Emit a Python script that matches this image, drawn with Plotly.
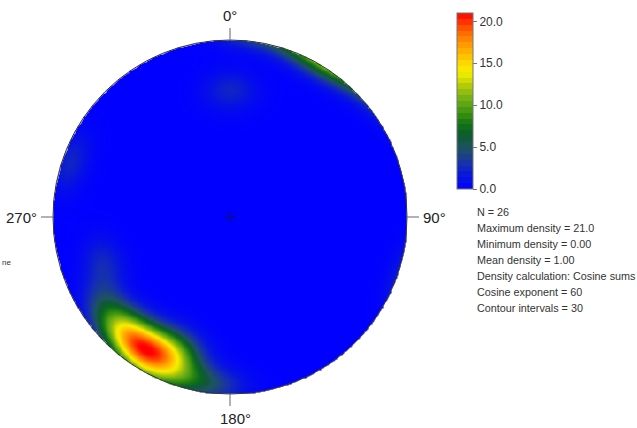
import numpy as np
import plotly.graph_objects as go

# ---- data: poles (trend, plunge in degrees) ----
pole_trend = [224, 208, 214, 206, 217, 210, 212, 204, 218,
              222, 200, 219, 198, 226, 205,
              207, 211, 200,
              192, 184,
              250, 237,
              230, 215,
              0, 289]
pole_plunge = [16, 16, 12, 13, 16, 11, 18, 17, 11,
               20, 21, 6, 10, 12, 24,
               2, 1, 4,
               7, 5,
               25, 17,
               8, 5,
               29, 5]
cosine_exponent = 60

direction_labels = ["0°", "90°", "180°", "270°"]
direction_angles = [0, 90, 180, 270]

cbar_tickvals = [0, 5, 10, 15, 20]
cbar_ticktext = ["0.0", "5.0", "10.0", "15.0", "20.0"]
cmin, cmax = 0.0, 21.0
n_intervals = 30

stats_lines = ["N = 26", "Maximum density = 21.0", "Minimum density = 0.00",
               "Mean density = 1.00", "Density calculation: Cosine sums",
               "Cosine exponent = 60", "Contour intervals = 30"]

# ---- density (cosine sums, equal-area lower hemisphere) ----
def vec(trend_deg, plunge_deg):
    t = np.radians(trend_deg)
    p = np.radians(plunge_deg)
    return np.cos(p) * np.cos(t), np.cos(p) * np.sin(t), np.sin(p)

n = 401
xs = np.linspace(-1, 1, n)
X, Y = np.meshgrid(xs, xs)
R = np.hypot(X, Y)
inside = R <= 1.0
a = 2 * np.arcsin(np.clip(R / np.sqrt(2), 0, 1))  # angle from vertical
az = np.arctan2(X, Y)
gn, ge, gd = np.sin(a) * np.cos(az), np.sin(a) * np.sin(az), np.cos(a)

N = len(pole_trend)
acc = np.zeros_like(X)
for tr, pl in zip(pole_trend, pole_plunge):
    pn, pe, pd = vec(tr, pl)
    d = np.abs(gn * pn + ge * pe + gd * pd)
    acc += d ** cosine_exponent
dens = acc * (cosine_exponent + 1) / N
dens = np.where(inside, dens, np.nan)

# ---- colour scale ----
cs_vals = [0, 1.5, 3, 4, 5, 6, 7, 8, 9, 10, 11, 12, 13, 14, 15, 16, 17, 18, 19, 20, 21]
cs_cols = ["#0000ff", "#0814e0", "#1630b0", "#1c4284", "#1e5460", "#10583a", "#0a6622",
           "#1a7a12", "#3a9010", "#5aa414", "#7cb414", "#a8c40a", "#d4dc00", "#f4f000",
           "#ffd800", "#ffbc00", "#ffa000", "#ff8000", "#ff5c00", "#ff3000", "#ff0000"]
colorscale = [[v / cmax, c] for v, c in zip(cs_vals, cs_cols)]

def interp_color(v):
    v = min(max(v, 0), cmax)
    for i in range(len(cs_vals) - 1):
        if cs_vals[i] <= v <= cs_vals[i + 1]:
            f = (v - cs_vals[i]) / (cs_vals[i + 1] - cs_vals[i])
            c1 = [int(cs_cols[i][k:k + 2], 16) for k in (1, 3, 5)]
            c2 = [int(cs_cols[i + 1][k:k + 2], 16) for k in (1, 3, 5)]
            c = [round(c1[k] + f * (c2[k] - c1[k])) for k in range(3)]
            return "rgb(%d,%d,%d)" % tuple(c)
    return cs_cols[-1]

step = (cmax - cmin) / n_intervals
disc = []
for i in range(n_intervals):
    col = interp_color(cmin + (i + 0.5) * step)
    disc.append([i / n_intervals, col])
    disc.append([(i + 1) / n_intervals, col])

fig = go.Figure()
fig.add_trace(go.Heatmap(x=xs, y=xs, z=dens, colorscale=colorscale, zmin=cmin, zmax=cmax,
                         zsmooth="best", showscale=False, hoverinfo="skip"))
# colour bar carrier (placed outside visible range)
fig.add_trace(go.Heatmap(x=[50, 51], y=[50, 51], z=[[cmin, cmax], [cmin, cmax]],
                         colorscale=disc, zmin=cmin, zmax=cmax, hoverinfo="skip",
                         colorbar=dict(x=457 / 637, xanchor="left", thickness=16,
                                       y=1 - 101 / 428, yanchor="middle", len=176, lenmode="pixels",
                                       tickvals=cbar_tickvals, ticktext=cbar_ticktext,
                                       ticks="outside", ticklen=4, tickcolor="#777",
                                       outlinewidth=1, outlinecolor="#777", xpad=0, ypad=0,
                                       tickfont=dict(family="Liberation Sans", size=12, color="#333"))))
fig.add_trace(go.Scatter(x=[0], y=[0], mode="markers", hoverinfo="skip",
                         marker=dict(symbol="cross-thin", size=8, line=dict(width=1, color="#101060")),
                         showlegend=False))

shapes = [dict(type="circle", xref="x", yref="y", x0=-1, y0=-1, x1=1, y1=1,
               line=dict(color="#333", width=1))]
annotations = []
tick_len = 12 / 177
for lab, ang in zip(direction_labels, direction_angles):
    t = np.radians(ang)
    sx, sy = np.sin(t), np.cos(t)
    shapes.append(dict(type="line", xref="x", yref="y", x0=sx, y0=sy,
                       x1=sx * (1 + tick_len), y1=sy * (1 + tick_len),
                       line=dict(color="#999", width=1.5)))
    off = 1 + tick_len + 0.01
    if ang == 0:
        annotations.append(dict(x=0, y=off, xanchor="center", yanchor="bottom", text=lab))
    elif ang == 90:
        annotations.append(dict(x=off, y=0, xanchor="left", yanchor="middle", text=lab))
    elif ang == 180:
        annotations.append(dict(x=0.03, y=-off, xanchor="center", yanchor="top", text=lab))
    else:
        annotations.append(dict(x=-off, y=0, xanchor="right", yanchor="middle", text=lab))
for an in annotations:
    an.update(xref="x", yref="y", showarrow=False,
              font=dict(family="Liberation Sans", size=15, color="#222"))

for i, line in enumerate(stats_lines):
    annotations.append(dict(xref="paper", yref="paper", x=475 / 637, y=1 - (212 + 16 * i) / 428,
                            xanchor="left", yanchor="middle", text=line, showarrow=False,
                            font=dict(family="Liberation Sans", size=10.8, color="#333")))
annotations.append(dict(xref="paper", yref="paper", x=0, y=1 - 262 / 428, xanchor="left",
                        yanchor="middle", text="ne", showarrow=False,
                        font=dict(family="Liberation Sans", size=8, color="#333")))

fig.update_layout(width=637, height=428, margin=dict(l=0, r=0, t=0, b=0),
                  paper_bgcolor="white", plot_bgcolor="white", showlegend=False,
                  shapes=shapes, annotations=annotations,
                  xaxis=dict(range=[-230 / 177, 407 / 177], visible=False, fixedrange=True),
                  yaxis=dict(range=[-211 / 177, 217 / 177], visible=False, fixedrange=True))
fig.write_html("out.html", config={"displayModeBar": False},
               post_script="document.body.style.margin='0';document.body.style.overflow='hidden';")
